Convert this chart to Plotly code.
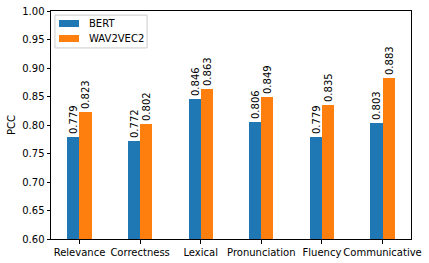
import plotly.graph_objects as go

categories = ["Relevance", "Correctness", "Lexical", "Pronunciation", "Fluency", "Communicative"]
series_names = ["BERT", "WAV2VEC2"]
bert = [0.779, 0.772, 0.846, 0.806, 0.779, 0.803]
wav2vec2 = [0.823, 0.802, 0.863, 0.849, 0.835, 0.883]
yticks = [0.60, 0.65, 0.70, 0.75, 0.80, 0.85, 0.90, 0.95, 1.00]

colors = ["#1f77b4", "#ff7f0e"]
x = list(range(len(categories)))
font = dict(family="DejaVu Sans", size=10, color="black")

fig = go.Figure()
for name, vals, off, col in zip(series_names, [bert, wav2vec2], [-0.2, 0.0], colors):
    fig.add_trace(go.Bar(
        x=x, y=[v - 0.6 for v in vals], base=0.6, name=name,
        width=0.2, offset=off, marker=dict(color=col, line=dict(width=0)),
        text=[f"{v:.3f}" for v in vals], textposition="outside", textangle=-90,
        constraintext="none", cliponaxis=False,
        textfont=font, hoverinfo="skip", showlegend=False,
    ))

# manual matplotlib-style legend (paper coordinates)
shapes = [dict(type="rect", xref="paper", yref="paper", x0=0.011, x1=0.267, y0=0.838, y1=0.982,
               line=dict(color="#cccccc", width=1), fillcolor="rgba(255,255,255,0.8)", layer="above")]
annotations = []
rows = [(0.9298, 0.9605, 0.9452), (0.864, 0.8947, 0.8794)]
for (y0, y1, yc), name, col in zip(rows, series_names, colors):
    shapes.append(dict(type="rect", xref="paper", yref="paper", x0=0.0222, x1=0.0778, y0=y0, y1=y1,
                       line=dict(width=0), fillcolor=col, layer="above"))
    annotations.append(dict(xref="paper", yref="paper", x=0.1, y=yc, text=name, showarrow=False,
                            xanchor="left", yanchor="middle", font=font))

fig.update_layout(
    width=429, height=263,
    margin=dict(l=51, r=18, t=11, b=24, autoexpand=False),
    paper_bgcolor="white", plot_bgcolor="white",
    font=font, barmode="overlay", bargap=0,
    showlegend=False, shapes=shapes, annotations=annotations,
    xaxis=dict(range=[-0.47, 5.47], tickmode="array", tickvals=x, ticktext=categories,
               tickangle=0, automargin=False,
               showline=True, linecolor="black", linewidth=1, mirror=True,
               ticks="outside", ticklen=3.5, tickcolor="black", showgrid=False, zeroline=False),
    yaxis=dict(range=[0.6, 1.0], tickmode="array", tickvals=yticks,
               ticktext=[f"{t:.2f}" for t in yticks], automargin=False,
               showline=True, linecolor="black", linewidth=1, mirror=True,
               ticks="outside", ticklen=3.5, tickcolor="black", showgrid=False, zeroline=False,
               title=dict(text="PCC", standoff=4, font=font)),
)
fig.write_html("out.html", config={"displayModeBar": False},
               post_script="document.body.style.margin='0px';")
